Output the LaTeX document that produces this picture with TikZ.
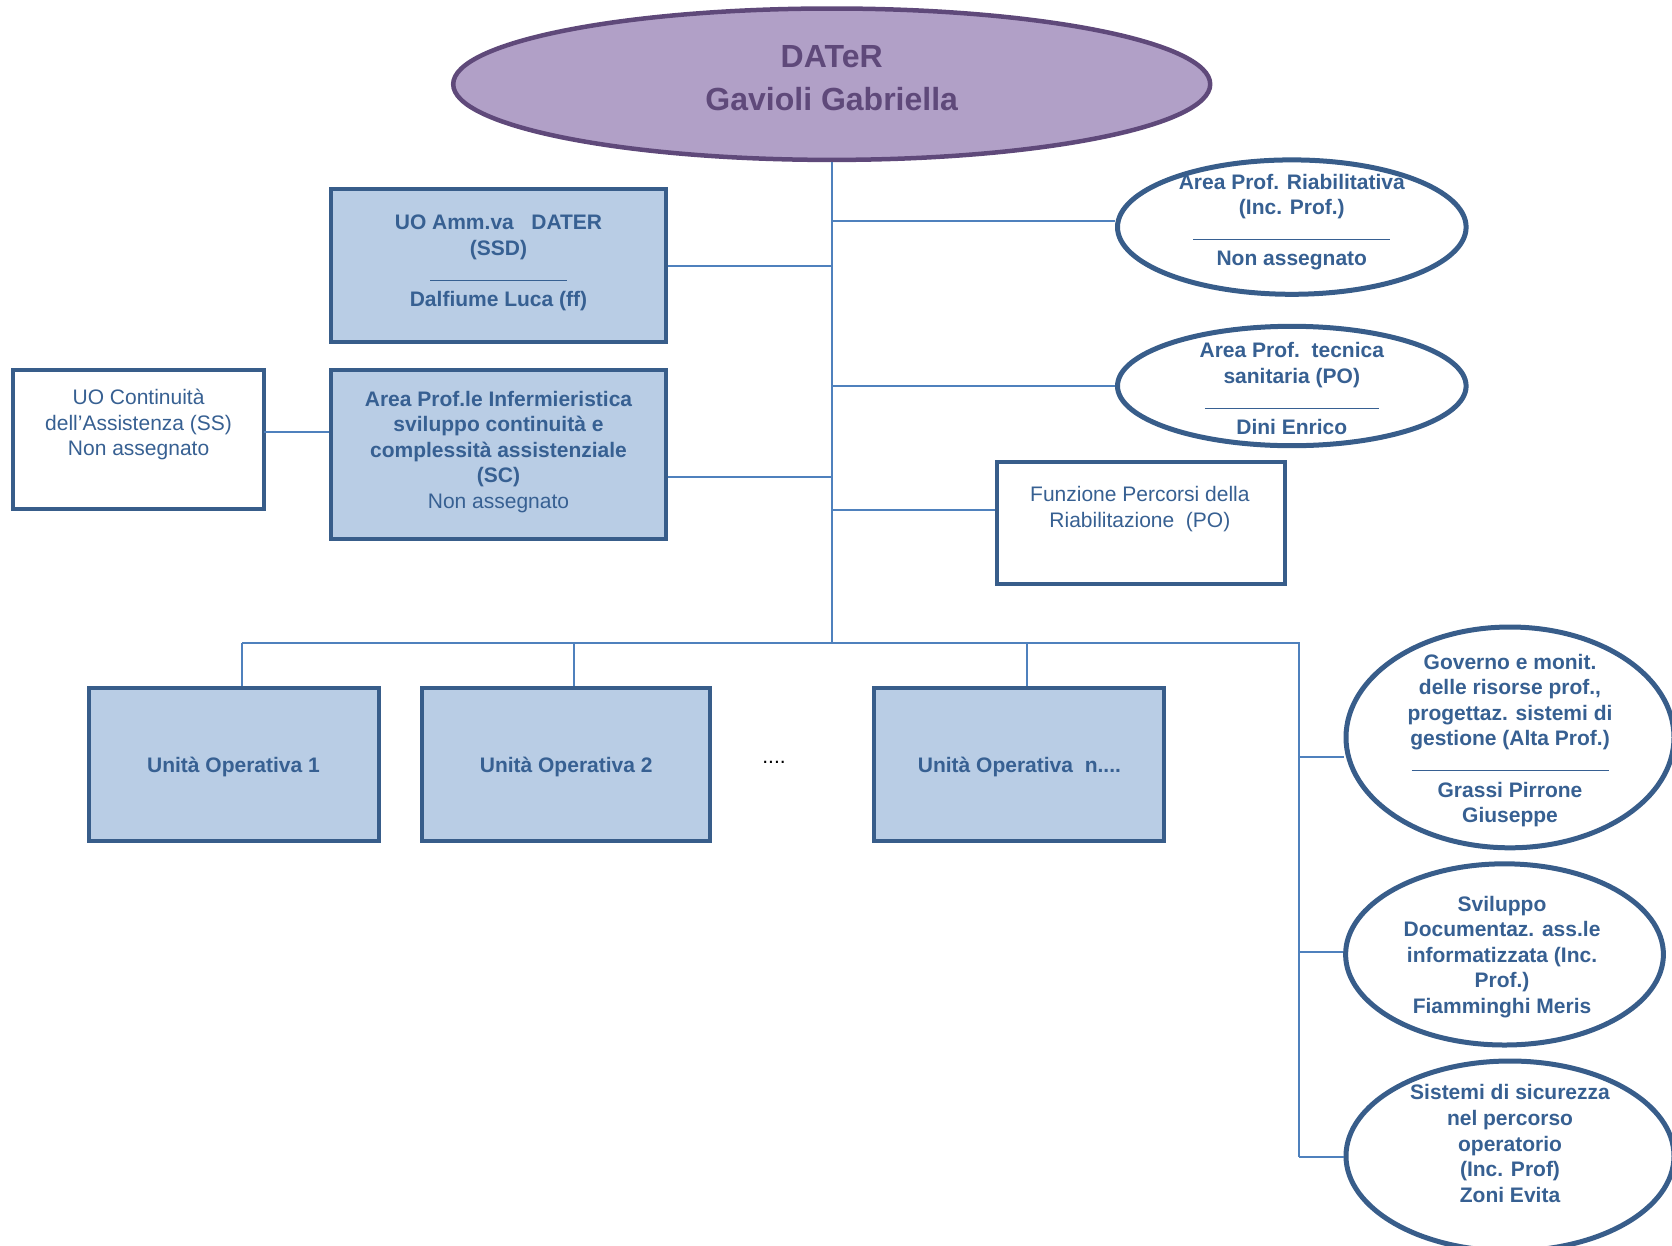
\documentclass[tikz,border=0pt]{standalone}
\usepackage{fontspec}
\setmainfont{Liberation Sans}
\usetikzlibrary{shapes.geometric}
\definecolor{lav}{HTML}{B1A0C7}
\definecolor{purp}{HTML}{5F497A}
\definecolor{bfill}{HTML}{B9CDE5}
\definecolor{bdraw}{HTML}{385D8A}
\definecolor{btext}{HTML}{376092}
\definecolor{lblue}{HTML}{4F81BD}
\begin{document}
\begin{tikzpicture}[x=1pt,y=-1pt,
  bluebox/.style={rectangle, draw=bdraw, fill=bfill, line width=4pt, inner sep=0pt},
  whitebox/.style={rectangle, draw=bdraw, fill=white, line width=4pt, inner sep=0pt},
  ovalnode/.style={ellipse, draw=bdraw, fill=white, line width=5pt, inner sep=0pt},
  conn/.style={draw=lblue, line width=2pt},
  basetxt/.style={text=btext, align=center, inner sep=0pt},
  txt/.style={basetxt, yshift=-2.5pt, font=\fontsize{21}{25.6}\selectfont\bfseries},
  txtn/.style={basetxt, yshift=-2.5pt, font=\fontsize{21}{25.6}\selectfont}]
\useasboundingbox (0,0) rectangle (1672,1245);

% top ellipse
\node[ellipse, draw=purp, fill=lav, line width=4.5pt, minimum width=757pt, minimum height=151.4pt, inner sep=0pt] (top) at (831.7,84.2) {};
\node[basetxt, text=purp, font=\fontsize{32}{42.7}\selectfont\bfseries] (topt) at (831.7,77.8) {DATeR\\Gavioli Gabriella};

% left boxes
\node[bluebox, minimum width=335.8pt, minimum height=153.6pt] (amm) at (498.5,265.5) {};
\node[txt] (ammt) at (498.5,260.7) {UO Amm.va\ \ \ DATER\\(SSD)\\\rule{137pt}{1pt}\\Dalfiume Luca (ff)};

\node[bluebox, minimum width=335.8pt, minimum height=168.5pt] (area) at (498.5,454.3) {};
\node[txt] (areat) at (498.5,449.4) {Area Prof.le Infermieristica\\sviluppo continuità e\\complessità assistenziale\\(SC)\\{\mdseries Non assegnato}};

\node[whitebox, minimum width=251.6pt, minimum height=138.6pt] (cont) at (138.6,439.3) {};
\node[txtn] (contt) at (138.6,422.3) {UO Continuità\\dell’Assistenza (SS)\\Non assegnato};

% right ellipses upper
\node[ovalnode, minimum width=348.6pt, minimum height=134.4pt] (riab) at (1291.8,227.1) {};
\node[txt] (riabt) at (1291.8,219.7) {Area Prof. Riabilitativa\\(Inc. Prof.)\\\rule{197pt}{1pt}\\Non assegnato};

\node[ovalnode, minimum width=348.6pt, minimum height=119.4pt] (tec) at (1291.8,386) {};
\node[txt] (tect) at (1291.8,386) {Area Prof.\ \ tecnica\\sanitaria (PO)\\\rule{174pt}{1pt}\\Dini Enrico};

\node[whitebox, minimum width=287.9pt, minimum height=122.6pt] (funz) at (1141,523) {};
\node[txtn] (funzt) at (1139.9,506.5) {Funzione Percorsi della\\Riabilitazione\ \ (PO)};

% unita operative
\node[bluebox, minimum width=290pt, minimum height=153.5pt] (uo1) at (233.5,764.5) {};
\node[txt] (uo1t) at (233.5,764.5) {Unità Operativa 1};
\node[bluebox, minimum width=288pt, minimum height=153.5pt] (uo2) at (566.2,764.5) {};
\node[txt] (uo2t) at (566.2,764.5) {Unità Operativa 2};
\node[bluebox, minimum width=290pt, minimum height=153.5pt] (uon) at (1019.4,764.5) {};
\node[txt] (uont) at (1019.4,764.5) {Unità Operativa\ \ n....};
\node[text=black, font=\fontsize{21}{25}\selectfont, inner sep=0pt] (dots) at (774,762) {....};

% right ellipses lower
\node[ovalnode, minimum width=328pt, minimum height=220.8pt] (gov) at (1510,737.4) {};
\node[txt] (govt) at (1510,737.9) {Governo e monit.\\delle risorse prof.,\\progettaz. sistemi di\\gestione (Alta Prof.)\\\rule{197pt}{1pt}\\Grassi Pirrone\\Giuseppe};

\node[ovalnode, minimum width=317.8pt, minimum height=181.2pt] (svil) at (1504.5,954.4) {};
\node[txt] (svilt) at (1502,954.4) {Sviluppo\\Documentaz. ass.le\\informatizzata (Inc.\\Prof.)\\Fiamminghi Meris};

\node[ovalnode, minimum width=328pt, minimum height=190pt] (sist) at (1510,1156) {};
\node[txt] (sistt) at (1510,1141) {Sistemi di sicurezza\\nel percorso\\operatorio\\(Inc. Prof)\\Zoni Evita};

% connectors
\coordinate (busC) at (831.7,643);
\coordinate (busL) at (242,643);
\coordinate (busR) at (1298.8,643);
\coordinate (busD2) at (573.7,643);
\coordinate (busDn) at (1026.9,643);
\coordinate (rEnd) at (1298.8,1157);
\coordinate (jRiab) at (831.7,220.7);
\coordinate (jArea) at (831.7,476.6);
\coordinate (jFunz) at (831.7,509.7);
\coordinate (jCont) at (264.4,431.8);
\coordinate (jGov) at (1298.8,757);
\coordinate (jSvil) at (1298.8,952.2);

\draw[conn] (top.south) -- (busC);
\draw[conn] (amm.east) -- (amm.east -| busC);
\draw[conn] (jArea) -- (jArea -| area.east);
\draw[conn] (jCont) -- (jCont -| area.west);
\draw[conn] (jRiab) -- (jRiab -| riab.west);
\draw[conn] (tec.west -| busC) -- (tec.west);
\draw[conn] (jFunz) -- (jFunz -| funz.west);
\draw[conn] (busL) -- (busR) -- (rEnd);
\draw[conn] (busL) -- (busL |- uo1.north);
\draw[conn] (busD2) -- (busD2 |- uo2.north);
\draw[conn] (busDn) -- (busDn |- uon.north);
\draw[conn] (jGov) -- (jGov -| gov.west);
\draw[conn] (jSvil) -- (jSvil -| svil.west);
\draw[conn] (rEnd) -- (rEnd -| sist.west);
\end{tikzpicture}
\end{document}
